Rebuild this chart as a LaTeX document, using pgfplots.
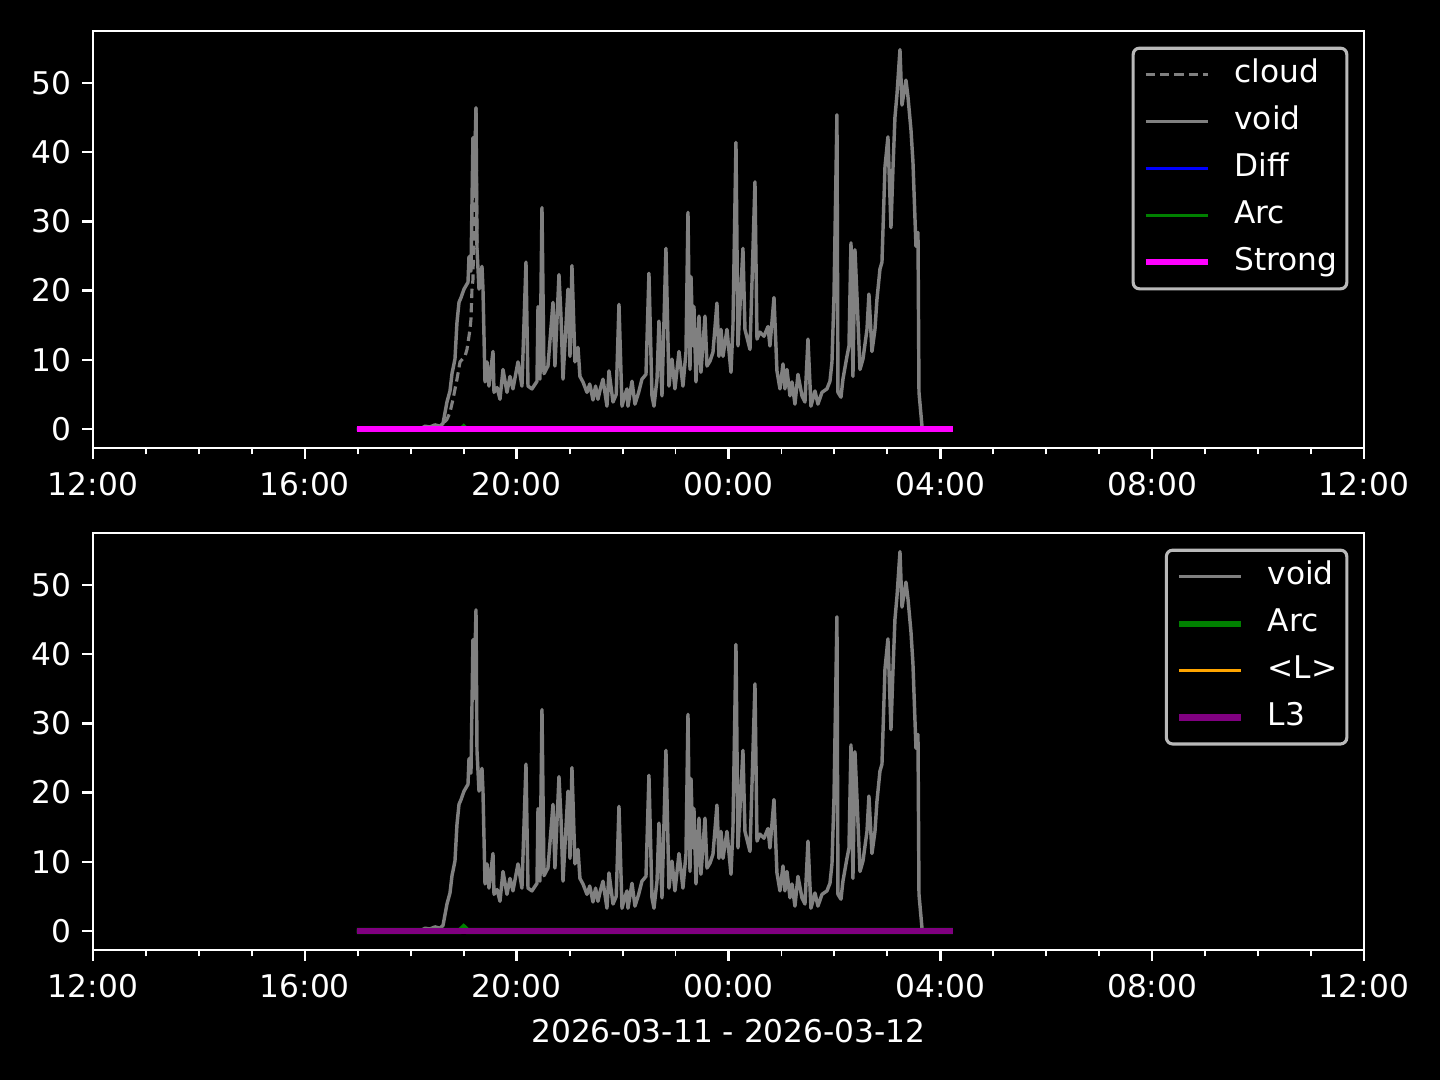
\documentclass[border=0pt]{standalone}
\usepackage{fontspec}
\setmainfont{DejaVu Sans}
\usepackage{pgfplots}
\usepackage{pgfplotstable}
\pgfplotsset{compat=1.18}

\definecolor{mplgray}{RGB}{128,128,128}
\definecolor{mplgreen}{RGB}{0,128,0}
\definecolor{mplblue}{RGB}{0,0,255}
\definecolor{mplmagenta}{RGB}{255,0,255}
\definecolor{mplorange}{RGB}{255,165,0}
\definecolor{mplpurple}{RGB}{128,0,128}
\definecolor{legframe}{RGB}{185,185,185}

% hours after 12:00 on 2026-03-11
\pgfplotstableread{
h v
4.985 0
6.174 0
6.269 0.4
6.363 0.3
6.458 0.6
6.552 0.4
6.609 0.8
6.684 3.9
6.741 5.5
6.779 8.0
6.835 10.1
6.873 15.4
6.911 18.3
6.950 19.0
7.005 20.2
7.081 21.2
7.100 24.9
7.137 22.8
7.175 42.1
7.194 33.6
7.232 46.4
7.251 26.0
7.289 20.2
7.345 23.5
7.364 20.2
7.402 6.8
7.440 9.7
7.477 6.2
7.553 11.2
7.572 5.3
7.630 6.0
7.685 4.3
7.742 8.6
7.817 5.3
7.874 7.6
7.930 5.8
8.025 9.7
8.100 6.2
8.176 24.1
8.214 6.2
8.289 5.8
8.384 6.9
8.403 17.7
8.440 7.2
8.478 32.0
8.516 8.0
8.591 9.1
8.686 18.3
8.723 9.1
8.799 22.3
8.837 16.3
8.875 7.2
8.969 20.2
9.007 10.5
9.044 23.6
9.101 9.7
9.158 11.8
9.195 7.6
9.252 6.8
9.328 5.3
9.380 6.5
9.441 4.2
9.490 6.2
9.535 4.3
9.580 5.8
9.630 7.2
9.705 3.3
9.743 8.4
9.819 3.9
9.880 5.0
9.932 18.0
9.989 3.3
10.040 4.8
10.083 5.8
10.102 3.3
10.178 6.9
10.234 3.6
10.300 5.2
10.366 7.2
10.442 7.9
10.498 22.5
10.555 4.8
10.593 3.3
10.650 7.2
10.687 15.6
10.744 4.8
10.819 26.1
10.876 6.2
10.933 10.1
10.989 5.8
11.065 11.2
11.140 6.2
11.197 11.1
11.235 31.3
11.273 8.6
11.292 22.0
11.329 12.0
11.348 17.7
11.386 6.8
11.443 16.3
11.480 8.2
11.556 16.3
11.594 9.1
11.650 9.8
11.707 11.1
11.782 18.2
11.820 10.5
11.858 14.4
11.896 10.5
11.971 14.4
12.047 8.2
12.084 14.8
12.141 41.4
12.179 12.0
12.273 26.1
12.311 14.4
12.406 11.5
12.500 35.7
12.538 13.0
12.594 14.0
12.670 13.4
12.745 14.8
12.783 12.0
12.859 19.0
12.915 8.4
12.972 5.8
13.029 9.4
13.066 5.8
13.104 8.6
13.161 4.8
13.199 6.8
13.255 3.6
13.312 7.9
13.387 4.8
13.444 3.9
13.501 13.0
13.557 3.3
13.633 5.5
13.689 3.6
13.765 5.3
13.859 5.8
13.916 6.9
13.954 9.7
13.992 19.2
14.048 45.4
14.067 5.3
14.124 4.6
14.161 7.2
14.237 10.5
14.275 12.0
14.313 26.9
14.350 7.6
14.388 25.9
14.426 19.2
14.483 8.6
14.539 10.1
14.615 14.4
14.652 19.5
14.709 11.2
14.766 14.4
14.803 18.7
14.860 23.1
14.898 24.1
14.955 37.9
15.011 42.2
15.068 29.1
15.105 37.5
15.143 45.0
15.181 48.3
15.238 54.8
15.276 46.8
15.351 50.4
15.389 48.0
15.446 43.2
15.483 38.6
15.540 26.4
15.578 28.4
15.597 5.3
15.654 0.4
15.670 0
}\voiddata

\pgfplotstableread{
h v
6.400 0
6.552 0.4
6.684 1.4
6.741 2.4
6.798 4.3
6.873 7.2
6.930 9.7
7.024 10.5
7.062 11.5
7.119 14.4
7.137 15.9
7.156 20.2
7.175 21.6
7.213 40.0
7.232 46.4
7.251 26.0
}\clouddata

\pgfplotstableread{
h v
4.985 0
6.950 0
7.024 0.3
7.090 0
16.239 0
}\diffdata

\pgfplotstableread{
h v
4.985 0
6.930 0
7.000 0.5
7.070 0
16.239 0
}\arcdata

\pgfplotstableread{
h v
4.985 0
16.239 0
}\zerodata

\pgfplotsset{
  mpl/.style={
    scale only axis, width=406.72pt, height=133.44pt,
    xmin=0, xmax=24, ymin=-2.74, ymax=57.5,
    axis line style={white, line width=0.8pt},
    xtick={0,4,...,24},
    xticklabels={12:00,16:00,20:00,00:00,04:00,08:00,12:00},
    minor xtick={1,2,3,5,6,7,9,10,11,13,14,15,17,18,19,21,22,23},
    ytick={0,10,...,50},
    yticklabels={0,10,20,30,40,50},
    tick align=outside, xtick pos=left, ytick pos=left,
    major tick length=3.5pt, minor tick length=2pt,
    tick style={white, line width=0.8pt},
    minor tick style={line width=0.6pt},
    ticklabel style={font=\fontsize{10}{12}\selectfont, text=white},
    xticklabel style={yshift=-0.6pt},
    label style={font=\fontsize{10}{12}\selectfont, text=white},
    legend cell align=left,
    legend style={at={(1,1)}, anchor=north east, xshift=-5pt, yshift=-5pt,
      fill=black, draw=legframe, line width=1pt, rounded corners=2pt,
      text=white, font=\fontsize{10}{12}\selectfont,
      inner xsep=3pt, inner ysep=3.5pt, row sep=5pt,
      nodes={inner sep=0pt, text height=7.6pt, text depth=2.4pt},
      /tikz/every odd column/.append style={column sep=7.4pt}},
    legend image code/.code={\draw[##1] (0pt,0pt) -- (20pt,0pt);},
  },
}

\begin{document}
\begin{tikzpicture}
\fill[black] (-29.76pt,-202.24pt) rectangle (431.04pt,143.36pt);

\begin{axis}[mpl, at={(0,0)}, anchor=south west]
\addplot[mplgray, line width=1pt, dash pattern=on 3pt off 1.6pt, line join=round] table[x=h, y=v] {\clouddata};
\addlegendentry{cloud}
\addplot[mplgray, line width=1.1pt, line join=round] table[x=h, y=v] {\voiddata};
\addlegendentry{void}
\addplot[mplblue, line width=1pt] table[x=h, y=v] {\diffdata};
\addlegendentry{Diff}
\addplot[mplgreen, line width=1pt] table[x=h, y=v] {\arcdata};
\addlegendentry{Arc}
\addplot[mplmagenta, line width=2pt] table[x=h, y=v] {\zerodata};
\addlegendentry{Strong}
\end{axis}

\begin{axis}[mpl, at={(0,-160.64pt)}, anchor=south west,
  xlabel={2026-03-11 - 2026-03-12}]
\addplot[mplgray, line width=1.1pt, line join=round] table[x=h, y=v] {\voiddata};
\addlegendentry{void}
\addplot[mplgreen, line width=2pt] table[x=h, y=v] {\arcdata};
\addlegendentry{Arc}
\addplot[mplorange, line width=1pt] table[x=h, y=v] {\zerodata};
\addlegendentry{<L>}
\addplot[mplpurple, line width=2pt] table[x=h, y=v] {\zerodata};
\addlegendentry{L3}
\end{axis}
\end{tikzpicture}
\end{document}
